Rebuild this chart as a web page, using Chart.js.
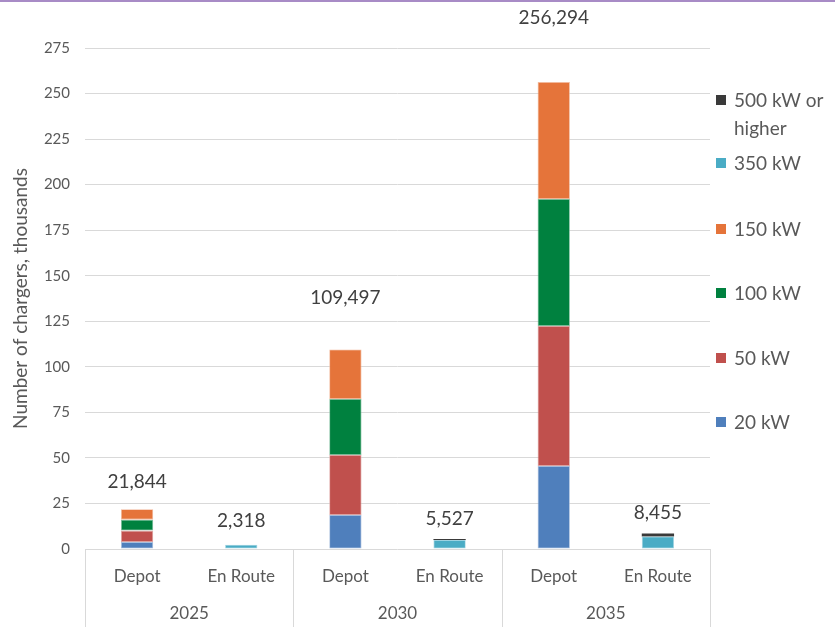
<!DOCTYPE html>
<html><head><meta charset="utf-8">
<script src="https://cdn.jsdelivr.net/npm/chart.js@4.4.1/dist/chart.umd.min.js"></script>
<style>
html,body{margin:0;padding:0;background:#fff;}
#wrap{position:relative;width:835px;height:627px;overflow:hidden;}
#topline{position:absolute;left:0;top:0;width:835px;height:2px;background:#a88bc6;}
canvas{display:block;}
</style></head><body>
<div id="wrap"><canvas id="c" width="835" height="627"></canvas><div id="topline"></div></div>
<script>
// ---- data (thousands of chargers) ----
const years = ['2025', '2030', '2035'];
const categories = ['Depot', 'En Route', 'Depot', 'En Route', 'Depot', 'En Route'];
const seriesNames = ['20 kW', '50 kW', '100 kW', '150 kW', '350 kW', '500 kW or higher'];
const kw20  = [3.8,   null, 18.7,   null, 45.6,   null];
const kw50  = [6.3,   null, 32.9,   null, 76.8,   null];
const kw100 = [6.0,   null, 30.7,   null, 69.7,   null];
const kw150 = [5.744, null, 27.197, null, 64.194, null];
const kw350 = [null, 2.318, null, 4.9,   null, 6.855];
const kw500 = [null, null,  null, 0.627, null, 1.6];
const yTicks = [0, 25, 50, 75, 100, 125, 150, 175, 200, 225, 250, 275];

// ---- style ----
const colors = ['#4f7fbc', '#c0504d', '#00813f', '#e5743a', '#4aacc5', '#3a3a3a'];
const borders = ['#a9c0de', '#e0a8a6', '#80c09f', '#f2b99c', '#a4d5e2', '#9a9a9a'];
const FONT = 'Lato, "Open Sans", sans-serif';
const TEXT = '#595959';
const GRID = '#d9d9d9';
const labelOffsets = [27, 24, 52, 20, 64, 21]; // px above bar tops for total labels
const legendY = [[100, 128], [163], [229], [293], [358], [422]]; // reversed order, top first

const seriesData = [kw20, kw50, kw100, kw150, kw350, kw500];
const datasets = seriesNames.map((n, i) => ({
  label: n,
  data: seriesData[i],
  backgroundColor: colors[i],
  borderColor: borders[i],
  borderWidth: i === 5 ? 0 : 0.8,
  borderSkipped: false,
  categoryPercentage: 1.0,
  barPercentage: 0.31
}));

const extras = {
  id: 'extras',
  afterDraw(chart) {
    const ctx = chart.ctx;
    const xs = chart.scales.x, ys = chart.scales.y;
    const ca = chart.chartArea;
    const catW = (ca.right - ca.left) / categories.length;
    ctx.save();
    // group separators
    ctx.strokeStyle = GRID;
    ctx.lineWidth = 1;
    for (let g = 0; g <= years.length; g++) {
      const x = Math.round(ca.left + g * 2 * catW) + 0.5;
      ctx.beginPath();
      ctx.moveTo(x, ca.bottom);
      ctx.lineTo(x, chart.height);
      ctx.stroke();
    }
    // year labels
    ctx.fillStyle = TEXT;
    ctx.font = '17px ' + FONT;
    ctx.textAlign = 'center';
    ctx.textBaseline = 'middle';
    years.forEach((yr, g) => {
      ctx.fillText(yr, ca.left + (g * 2 + 1) * catW, 614);
    });
    // totals
    ctx.fillStyle = '#404040';
    ctx.font = '19px ' + FONT;
    categories.forEach((c, i) => {
      const tot = seriesData.reduce((s, arr) => s + (arr[i] || 0), 0);
      const top = ys.getPixelForValue(tot);
      const txt = Math.round(tot * 1000).toLocaleString('en-US');
      ctx.fillText(txt, xs.getPixelForValue(i), top - labelOffsets[i]);
    });
    // legend (reversed)
    ctx.textAlign = 'left';
    ctx.font = '19px ' + FONT;
    const order = [5, 4, 3, 2, 1, 0];
    const texts = {5: ['500 kW or', 'higher']};
    order.forEach((si, k) => {
      const ys_ = legendY[k];
      ctx.fillStyle = colors[si];
      ctx.fillRect(716, ys_[0] - 5, 10, 10);
      ctx.fillStyle = TEXT;
      const lines = texts[si] || [seriesNames[si]];
      lines.forEach((ln, j) => ctx.fillText(ln, 734, ys_[j] + 1));
    });
    ctx.restore();
  }
};

new Chart(document.getElementById('c'), {
  type: 'bar',
  data: { labels: categories, datasets },
  options: {
    responsive: false,
    animation: false,
    devicePixelRatio: 1,
    layout: { padding: { top: 48, right: 125, left: 0, bottom: 0 } },
    plugins: { legend: { display: false }, tooltip: { enabled: false } },
    scales: {
      x: {
        stacked: true,
        grid: { display: false },
        border: { display: false },
        ticks: { color: TEXT, font: { family: FONT, size: 17 }, padding: 9 },
        afterFit(s) { s.height = 78; }
      },
      y: {
        stacked: true,
        min: 0, max: 275,
        afterBuildTicks(s) { s.ticks = yTicks.map(v => ({ value: v })); },
        ticks: { color: TEXT, font: { family: FONT, size: 15 }, padding: 15 },
        grid: { color: GRID, lineWidth: 1, drawTicks: false },
        border: { display: false },
        title: { display: true, text: 'Number of chargers, thousands', color: TEXT,
                 font: { family: FONT, size: 19 }, padding: { top: 9, bottom: 0 } },
        afterFit(s) { s.width = 85; }
      }
    }
  },
  plugins: [extras]
});
</script>
</body></html>
